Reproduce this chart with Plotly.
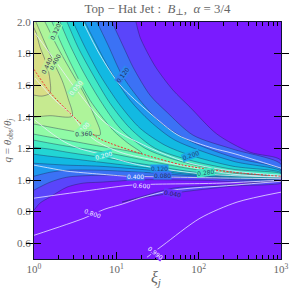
import plotly.graph_objects as go

# Contour curves: log10(xi_j) and q for each level,
# upper branch (left to right) and lower branch (left to right)
levels = [0.04, 0.08, 0.12, 0.16, 0.20, 0.24, 0.28, 0.32, 0.36, 0.40, 0.44]

up_lg = [
    [1.239, 1.287, 1.470, 1.688, 1.895, 2.223, 2.623, 3],
    [.947, 1.105, 1.202, 1.409, 1.615, 1.931, 2.417, 3],
    [.765, .899, 1.069, 1.287, 1.530, 1.895, 2.417, 3],
    [.619, .741, .923, 1.166, 1.409, 1.713, 2.417, 3],
    [.474, .619, .802, 1.045, 1.287, 1.591, 1.895, 2.417, 3],
    [.401, .534, .704, .923, 1.166, 1.470, 1.895, 2.417, 3],
    [.316, .437, .607, .802, 1.045, 1.348, 1.652, 2.016, 2.502, 2.842],
    [.219, .340, .498, .680, .960, 1.142, 1.312],
    [.134, .292, .498, .619, .729, .802],
    [.024, .134, .231, .340, .413, .462],
    [0, .073, .158, .194, .194],
]
up_q = [
    [2.0, 1.905, 1.721, 1.569, 1.461, 1.290, 1.176, 1.125],
    [2.0, 1.822, 1.715, 1.537, 1.429, 1.284, 1.195, 1.100],
    [2.0, 1.854, 1.664, 1.505, 1.366, 1.246, 1.144, 1.065],
    [2.0, 1.873, 1.696, 1.505, 1.372, 1.252, 1.119, 1.056],
    [2.0, 1.841, 1.664, 1.474, 1.328, 1.220, 1.157, 1.087, 1.046],
    [2.0, 1.841, 1.677, 1.486, 1.328, 1.201, 1.125, 1.068, 1.040],
    [2.0, 1.854, 1.677, 1.505, 1.328, 1.201, 1.138, 1.087, 1.046, 1.027],
    [2.0, 1.854, 1.683, 1.505, 1.315, 1.233, 1.169],
    [2.0, 1.835, 1.645, 1.537, 1.410, 1.315],
    [2.0, 1.867, 1.753, 1.632, 1.518, 1.404],
    [1.962, 1.841, 1.727, 1.632, 1.550],
]
low_lg = [
    [0, .073, .194, .401, .595, .802, 1.202, 1.409, 2.016, 3],
    [0, .194, .401, .802, 1.409, 2.016, 3],
    [0, .194, .401, .802, 1.409, 2.016, 3],
    [0, .194, .401, .802, 1.409, 2.016, 3],
    [0, .194, .401, .802, 1.409, 2.016, 3],
    [0, .194, .401, .802, 1.409, 2.016, 3],
    [0, .194, .401, .802, 1.409, 2.016, 2.842],
    [0, .194, .401, .802, 1.105, 1.312],
    [0, .194, .401, .619, .802],
    [0, .194, .462],
    [0, .097, .194],
]
low_q = [
    [.809, .854, .892, .955, .980, .986, .999, 1.002, .999, 1.005],
    [.936, .986, 1.018, 1.030, 1.024, 1.015, 1.011],
    [1.024, 1.049, 1.062, 1.062, 1.046, 1.024, 1.015],
    [1.106, 1.100, 1.094, 1.087, 1.062, 1.030, 1.018],
    [1.163, 1.150, 1.138, 1.113, 1.075, 1.037, 1.021],
    [1.207, 1.195, 1.176, 1.144, 1.094, 1.046, 1.024],
    [1.252, 1.233, 1.214, 1.182, 1.119, 1.062, 1.027],
    [1.290, 1.271, 1.252, 1.214, 1.188, 1.169],
    [1.354, 1.335, 1.315, 1.296, 1.284],
    [1.398, 1.407, 1.404],
    [1.537, 1.531, 1.550],
]
band_colors = ["#5a45fb", "#3b72f5", "#1f98ee", "#12b9e2", "#22d5d4", "#42e9c4",
               "#68f8b4", "#90fba6", "#aef49a", "#c6ea90", "#d8de86"]
background = "#7a1bff"

lobe_low_lg = [1.069, 1.287, 1.688, 2.417, 3]
lobe_low_q = [.860, .885, .917, .961, .980]
lobe_up_lg = [1.069, 1.287, 1.688, 2.016, 2.417, 3]
lobe_up_q = [.860, .892, .948, .961, .970, .989]

white_lg = [
    [.595, .802, 1.045, 1.409, 1.749, 2.174, 2.417, 3],
    [.012, .279, .498, .802, 1.045, 1.287, 1.470, 1.895, 2.417, 3],
    [.012, .255, .462, .583, .741, 1.045, 1.530, 2.417, 3],
    [.012, .194, .377, .559, .765, .960, 1.287, 2.016, 3],
    [0, .194, .401, .802, 1.130, 1.409, 2.016, 3],
    [0, .522, 1.166, 1.445, 2.259, 3],
    [0, .607, .862, 1.069, 1.287, 1.688, 2.417, 3],
    [1.372, 1.567, 2.016, 2.466, 3],
]
white_q = [
    [2.0, 1.791, 1.601, 1.423, 1.284, 1.201, 1.169, 1.075],
    [1.930, 1.740, 1.582, 1.391, 1.296, 1.233, 1.188, 1.106, 1.056, 1.030],
    [1.645, 1.505, 1.410, 1.328, 1.252, 1.176, 1.119, 1.037, 1.021],
    [1.379, 1.303, 1.239, 1.198, 1.169, 1.138, 1.094, 1.040, 1.018],
    [1.094, 1.075, 1.056, 1.037, 1.024, 1.021, 1.015, 1.008],
    [.885, .923, .967, .973, .980, .999],
    [.650, .758, .816, .847, .885, .936, .967, .992],
    [.511, .587, .758, .860, .923],
]
red_lg = [0, .194, .462, .765, .923, 1.287, 1.810, 2.417, 3]
red_q = [1.70, 1.556, 1.410, 1.271, 1.233, 1.169, 1.094, 1.049, 1.024]

# text, log10(xi), q, angle, colour, backing
labels = [
    ("0.050", .498, 1.582, 50, "#f4f4ff", "#8ff6a8"),
    ("0.100", .583, 1.320, 45, "#f4f4ff", "#90fba6"),
    ("0.200", .838, 1.157, 15, "#f4f4ff", "#2fdcce"),
    ("0.400", 1.227, 1.024, 0, "#f4f4ff", "#3b72f5"),
    ("0.600", 1.310, .967, -3, "#f4f4ff", "#7a1bff"),
    ("0.800", .716, .788, -20, "#f4f4ff", "#7a1bff"),
    ("0.990", 1.470, .540, -38, "#f4f4ff", "#7a1bff"),
    ("0.320", .255, 1.943, 65, "#333355", "#90fba6"),
    ("0.400", .243, 1.746, 60, "#333355", "#aef49a"),
    ("0.440", .146, 1.721, 65, "#333355", "#c6ea90"),
    ("0.120", 1.069, 1.664, 55, "#223366", "#2f85f1"),
    ("0.360", .607, 1.296, 3, "#333355", "#90fba6"),
    ("0.200", 1.895, 1.157, 20, "#224477", "#1aa8e8"),
    ("0.280", 2.077, 1.049, 8, "#225566", "#42e9c4"),
    ("0.040", 1.688, .917, -10, "#222266", "#6a30fd"),
    ("0.120", 1.520, 1.075, 0, "#224477", "#1f98ee"),
    ("0.080", 1.560, 1.030, 0, "#223366", "#3b72f5"),
]

x_tick_vals = [1, 10, 100, 1000]
x_tick_text = ["10<sup>0</sup>", "10<sup>1</sup>", "10<sup>2</sup>", "10<sup>3</sup>"]
x_minor = [m * d for d in (1, 10, 100) for m in range(2, 10)]
y_tick_vals = [0.6, 0.8, 1.0, 1.2, 1.4, 1.6, 1.8, 2.0]

SERIF = "Liberation Serif, DejaVu Serif, serif"
GREY = "#666666"
LINE = "rgba(25,25,70,0.55)"
SM = 0.8


def xi(vals):
    return [10 ** v for v in vals]


fig = go.Figure()

for i in range(len(levels)):
    ux, uy, lx, ly = up_lg[i], up_q[i], low_lg[i], low_q[i]
    lrx, lry = lx[::-1], ly[::-1]
    if ux[-1] == lrx[0] and uy[-1] == lry[0]:
        lrx, lry = lrx[1:], lry[1:]
    if uy[0] == 2.0:
        # carry the curve on past the top edge along its own slope, so it closes outside the frame
        k = 0.3 / (uy[0] - uy[1])
        head_x, head_y = [-0.3, -0.3, ux[0] - (ux[1] - ux[0]) * k], [ly[0], 2.3, 2.3]
    else:
        head_x, head_y = [-0.3, -0.3], [ly[0], uy[0] + 0.15]
    fig.add_trace(go.Scatter(x=xi(head_x + ux + lrx), y=head_y + uy + lry, mode="lines", fill="toself",
                             fillcolor=band_colors[i],
                             line=dict(width=0.7, shape="spline", smoothing=SM, color=LINE),
                             hoverinfo="skip", showlegend=False))

fig.add_trace(go.Scatter(x=xi(lobe_low_lg + lobe_up_lg[::-1]), y=lobe_low_q + lobe_up_q[::-1],
                         mode="lines", fill="toself", fillcolor=band_colors[0],
                         line=dict(width=0.7, color=LINE, shape="spline", smoothing=SM),
                         hoverinfo="skip", showlegend=False))

for wx, wy in zip(white_lg, white_q):
    fig.add_trace(go.Scatter(x=xi(wx), y=wy, mode="lines",
                             line=dict(width=0.9, color="rgba(238,238,255,0.85)", shape="spline", smoothing=SM),
                             hoverinfo="skip", showlegend=False))

fig.add_trace(go.Scatter(x=xi(red_lg), y=red_q, mode="lines",
                         line=dict(width=1.0, color="#f03030", dash="2px,1.5px", shape="spline", smoothing=SM),
                         hoverinfo="skip", showlegend=False))

# carries the tick marks of the top edge; it has no visible mark of its own
fig.add_trace(go.Scatter(x=[10], y=[1.5], mode="markers", marker=dict(size=1, opacity=0),
                         xaxis="x2", hoverinfo="skip", showlegend=False))

for text, lg, q, ang, col, bg in labels:
    fig.add_annotation(x=lg, y=q, text=text, showarrow=False, textangle=-ang,
                       font=dict(family="DejaVu Sans", size=6, color=col),
                       bgcolor=bg, borderpad=0, xref="x", yref="y")

fig.add_annotation(x=0.494, y=-0.083, xref="paper", yref="paper", xanchor="center", yanchor="middle",
                   showarrow=False, text="<i>ξ<sub>j</sub></i>", font=dict(family=SERIF, size=16, color=GREY))

axis_common = dict(showgrid=False, zeroline=False, showline=True, linecolor="#111133", linewidth=1.2,
                   mirror="allticks", ticks="inside", tickcolor="#000000", tickwidth=1.1, automargin=False,
                   tickfont=dict(family=SERIF, size=11, color=GREY))
minor_ticks = dict(tickmode="array", tickvals=x_minor, ticks="inside", ticklen=3.5,
                   tickcolor="#000000", tickwidth=1.1, showgrid=False)

fig.update_xaxes(type="log", range=[0, 3], tickmode="array", tickvals=x_tick_vals, ticktext=x_tick_text,
                 ticklen=6.5, minor=minor_ticks, **axis_common)
fig.update_yaxes(range=[0.5, 2.0], tickmode="array", tickvals=y_tick_vals,
                 ticktext=[f"{v:.1f}" for v in y_tick_vals], ticklen=6.5,
                 title=dict(text="<i>q</i> = <i>θ</i><sub>obs</sub>/<i>θ<sub>j</sub></i>",
                            font=dict(family=SERIF, size=11, color=GREY), standoff=3),
                 **axis_common)

fig.update_layout(
    width=291, height=291, autosize=False,
    margin=dict(l=34, r=10, t=22, b=32),
    paper_bgcolor="white", plot_bgcolor=background,
    xaxis2=dict(type="log", range=[0, 3], overlaying="x", side="top", anchor="y", tickmode="array",
                tickvals=x_tick_vals, ticktext=["", "", "", ""], ticks="inside", ticklen=6.5,
                tickcolor="#000000", tickwidth=1.1, minor=minor_ticks, showgrid=False, zeroline=False,
                automargin=False, showline=False),
    title=dict(text="Top − Hat Jet :  <i>B</i><sub>⊥</sub>,  <i>α</i> = 3/4",
               font=dict(family=SERIF, size=12.9, color=GREY), x=0.541, xanchor="center", y=0.972, yanchor="middle"),
    showlegend=False,
)

fig.write_html("out.html", config=dict(displayModeBar=False),
               post_script="document.body.style.margin='0';")
